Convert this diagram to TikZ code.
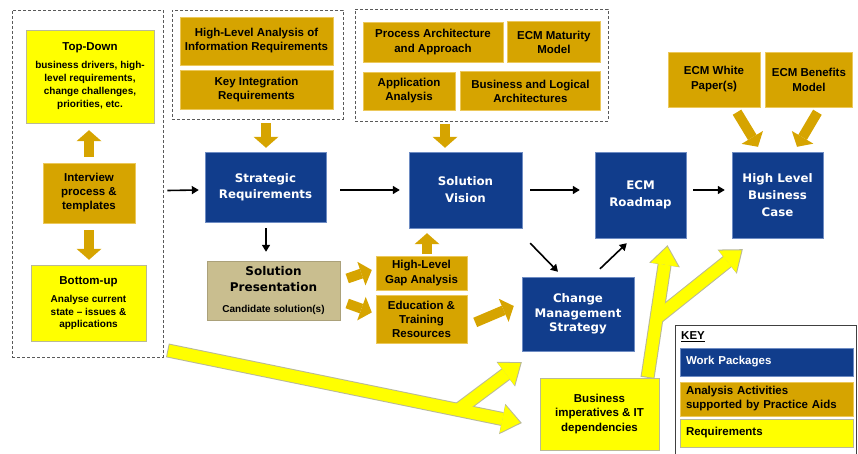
\documentclass[tikz,border=0pt]{standalone}
\usepackage{fontspec}
\setmainfont{Liberation Sans}
\newfontfamily\wpfont{DejaVu Sans}
\usetikzlibrary{positioning,fit,calc,arrows.meta}
\definecolor{wpblue}{RGB}{17,61,140}
\definecolor{wpedge}{RGB}{110,140,195}
\definecolor{aagold}{RGB}{214,164,0}
\definecolor{aaedge}{RGB}{236,200,90}
\definecolor{rqyellow}{RGB}{255,255,0}
\definecolor{rqedge}{RGB}{185,185,150}
\definecolor{sptan}{RGB}{201,190,143}
\tikzset{%
  package/.style  = {draw=wpedge, fill=wpblue, text=white, align=center,
    font=\wpfont\bfseries\fontsize{11.8}{17}\selectfont}, % Work package
  activity/.style = {draw=aaedge, fill=aagold, align=center,
    font=\bfseries\fontsize{11.5}{14}\selectfont}, % Analysis activity
  need/.style     = {draw=rqedge, fill=rqyellow, align=center,
    font=\bfseries\fontsize{10}{13}\selectfont}, % Requirement
  keyitem/.style  = {text width=161pt, inner xsep=6pt, align=left,
    font=\bfseries\fontsize{11.5}{14}\selectfont},
  group/.style    = {draw=black!65, dash pattern=on 3pt off 2pt, line width=0.8pt,
    inner sep=0pt},
  flow/.style     = {line width=1.6pt, -{Triangle[width=8pt,length=7pt]}},
  aidflow/.style  = {aagold, line width=10pt,
    -{Triangle[width=25pt,length=11pt,line width=0pt]}},
  neededge/.style = {rqedge, line width=14pt,
    -{Triangle[width=31pt,length=20pt,line width=0pt]}},
  needflow/.style = {rqyellow, line width=12pt, shorten <=1pt, shorten >=1.7pt,
    -{Triangle[width=28pt,length=18pt,line width=0pt]}}
}
\newcommand{\ttl}{\fontsize{11.5}{14}\selectfont}

\begin{document}
\begin{tikzpicture}[x=1pt, y=-1pt]
  \useasboundingbox (0,0) rectangle (858,454);

  % requirements side
  \node[need, minimum width=128, minimum height=93] (topdown) at (90,76.5)
    {{\ttl Top-Down}\\[5pt] business drivers, high-\\level requirements,\\change challenges,\\priorities, etc.};
  \node[activity, minimum width=92, minimum height=60] (interview) at (89,193)
    {Interview\\process \&\\templates};
  \node[need, minimum width=115, minimum height=76,
    font=\bfseries\fontsize{10}{12.5}\selectfont] (bottomup) at (88.5,303)
    {{\ttl Bottom-up}\\[6pt] Analyse current\\state – issues \&\\applications};
  \node[group, fit={(12,10) (163,357)}] (reqgroup) {};

  \node[activity, minimum width=153, minimum height=48] (infoanalysis) at (256.5,41)
    {High-Level Analysis of\\Information Requirements};
  \node[activity, minimum width=153, minimum height=39, below=5pt of infoanalysis] (keyint)
    {Key Integration\\Requirements};
  \node[group, fit={(172,10) (343,119)}] (stratgroup) {};

  \node[activity, minimum width=140, minimum height=40,
    font=\bfseries\fontsize{11.5}{15}\selectfont] (procarch) at (433,42)
    {Process Architecture\\and Approach};
  \node[activity, minimum width=93, minimum height=41, right=4pt of procarch] (maturity)
    {ECM Maturity\\Model};
  \node[activity, minimum width=92, minimum height=38] (appanalysis) at (409,91)
    {Application\\Analysis};
  \node[activity, minimum width=140, minimum height=39, right=5pt of appanalysis] (bizlogic)
    {Business and Logical\\Architectures};
  \node[group, fit={(355,9) (608,121)}] (visiongroup) {};

  \node[activity, minimum width=92, minimum height=55,
    font=\bfseries\fontsize{11.5}{15}\selectfont] (whitepaper) at (714,79.5)
    {ECM White\\Paper(s)};
  \node[activity, minimum width=87, minimum height=55, right=5pt of whitepaper,
    font=\bfseries\fontsize{11.5}{15}\selectfont] (benefits)
    {ECM Benefits\\Model};

  % work packages
  \node[package, minimum width=121, minimum height=70,
    font=\wpfont\bfseries\fontsize{11.8}{16}\selectfont] (strategic) at (265.5,187)
    {Strategic\\Requirements};
  \node[package, minimum width=113, minimum height=76] (vision) at (465.5,190)
    {Solution\\Vision};
  \node[package, minimum width=91, minimum height=86] (roadmap) at (640.5,195)
    {ECM\\Roadmap};
  \node[package, minimum width=91, minimum height=86] (bizcase) at (777.5,195)
    {High Level\\Business\\Case};
  \node[package, minimum width=112, minimum height=74,
    font=\wpfont\bfseries\fontsize{11.8}{14.5}\selectfont] (change) at (578,314)
    {Change\\Management\\Strategy};

  \node[draw=sptan!85!black, fill=sptan, align=center, minimum width=133, minimum height=59,
    font=\wpfont\bfseries\fontsize{12}{16}\selectfont] (solpres) at (273.5,290.5)
    {Solution\\Presentation\\[5pt]{\rmfamily\fontsize{10}{12}\selectfont Candidate solution(s)}};
  \node[activity, minimum width=91, minimum height=34,
    font=\bfseries\fontsize{11.5}{15}\selectfont] (gap) at (421.5,273)
    {High-Level\\Gap Analysis};
  \node[activity, minimum width=91, minimum height=48, below=5pt of gap] (training)
    {Education \&\\Training\\Resources};

  \node[need, minimum width=119, minimum height=72,
    font=\bfseries\fontsize{11.5}{14.5}\selectfont] (bizimp) at (599.5,414)
    {Business\\imperatives \& IT\\dependencies};

  % key
  \node[draw=black!75, line width=1pt, inner sep=0pt, fit={(675,325) (856,470)}] (key) {};
  \node[anchor=west, inner sep=0pt, font=\bfseries\fontsize{11.5}{14}\selectfont] (keytitle)
    at (681,337) {\underline{KEY}};
  \node[keyitem, draw=wpedge, fill=wpblue, text=white, minimum height=28] (keywp)
    at (766.5,362) {Work Packages};
  \node[keyitem, draw=aaedge, fill=aagold, minimum height=34] (keyaa)
    at (766.5,399) {Analysis Activities\\supported by Practice Aids};
  \node[keyitem, draw=rqedge, fill=rqyellow, minimum height=28] (keyreq)
    at (766.5,433) {Requirements};

  % black flow
  \draw[flow] ($(reqgroup.east)+(4,7)$) -- ($(strategic.west)+(-6,3)$);
  \draw[flow] ($(strategic.east)+(14,3)$) -- ($(vision.west)+(-9,0)$);
  \draw[flow] ($(vision.east)+(8,0)$) -- ($(roadmap.west)+(-15,-5)$);
  \draw[flow] ($(roadmap.east)+(7,-5)$) -- ($(bizcase.west)+(-7,-5)$);
  \draw[flow] ($(strategic.south)+(0.5,6)$) -- ($(solpres.north)+(-7.5,-9)$);
  \draw[flow] ($(vision.south east)+(8,15)$) -- ($(change.north)+(-20,-5)$);
  \draw[flow] ($(change.north)+(22,-8)$) -- ($(roadmap.south west)+(32,5)$);

  % practice aid arrows
  \draw[aidflow] ($(interview.north)+(0,-6)$) -- ($(topdown.south)+(-1,7)$);
  \draw[aidflow] ($(interview.south)+(0,7)$) -- ($(bottomup.north)+(0.5,-5)$);
  \draw[aidflow] ($(stratgroup.south)+(8.5,4)$) -- ($(strategic.north)+(0.5,-4)$);
  \draw[aidflow] ($(visiongroup.south)+(-36.5,3)$) -- ($(vision.north)+(-20.5,-4)$);
  \draw[aidflow] ($(gap.north)+(5.5,-2)$) -- ($(vision.south)+(-38.5,5)$);
  \draw[aidflow] ($(solpres.east)+(7,-12)$) -- ($(gap.west)+(-4,-3)$);
  \draw[aidflow] ($(solpres.east)+(7,13)$) -- ($(training.west)+(-4,-7)$);
  \draw[aidflow] ($(training.east)+(8,3)$) -- ($(change.west)+(-8,-8)$);
  \draw[aidflow] ($(whitepaper.south)+(23,5)$) -- ($(bizcase.north)+(-19.5,-5)$);
  \draw[aidflow] ($(benefits.south)+(8.5,5)$) -- ($(bizcase.north)+(19.5,-5)$);

  % requirement arrows
  \path ($(reqgroup.south east)+(4,-7)$) -- coordinate[pos=0.82] (fork1) ($(bizimp.west)+(-18,9)$);
  \path ($(bizimp.north)+(48,0)$) -- coordinate[pos=0.45] (fork2) ($(roadmap.south)+(27,7)$);
  \draw[neededge] (fork1) -- ($(change.south west)+(0,11)$);
  \draw[neededge] ($(reqgroup.south east)+(4,-7)$) -- ($(bizimp.west)+(-18,9)$);
  \draw[neededge] (fork2) -- ($(bizcase.south west)+(11,11)$);
  \draw[neededge] ($(bizimp.north)+(48,0)$) -- ($(roadmap.south)+(27,7)$);
  \draw[needflow] (fork1) -- ($(change.south west)+(0,11)$);
  \draw[needflow] ($(reqgroup.south east)+(4,-7)$) -- ($(bizimp.west)+(-18,9)$);
  \draw[needflow] (fork2) -- ($(bizcase.south west)+(11,11)$);
  \draw[needflow] ($(bizimp.north)+(48,0)$) -- ($(roadmap.south)+(27,7)$);
\end{tikzpicture}
\end{document}
